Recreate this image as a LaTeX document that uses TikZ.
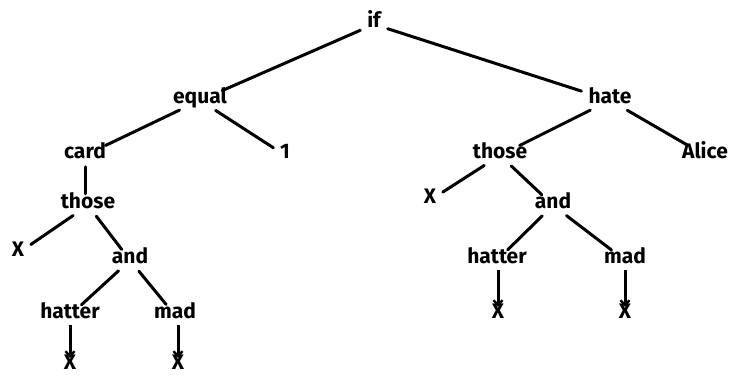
\documentclass[tikz,border=0pt]{standalone}
\usepackage{fontspec}
\setmainfont{Fira Sans}
\usetikzlibrary{arrows.meta}
\begin{document}
\begin{tikzpicture}[x=1pt,y=-1pt,
  lbl/.style={font=\fontsize{21}{23}\selectfont\bfseries, inner sep=4pt, anchor=base, text height=0.7em, text depth=0.16em},
  edge/.style={line width=3pt, line cap=round, shorten <=3pt, shorten >=3pt},
  arr/.style={line width=3pt, -{Straight Barb[length=5pt,width=9pt,line width=2.4pt]}, shorten <=1pt}]
\useasboundingbox (0,0) rectangle (744,375);
% left subtree
\node[lbl] (if) at (374,27) {if};
\node[lbl] (eq) at (200,103) {equal};
\node[lbl] (hate) at (610,103) {hate};
\node[lbl] (card) at (85,158) {card};
\node[lbl] (one) at (285,158) {1};
\node[lbl] (thoseL) at (88,208) {those};
\node[lbl] (xL) at (18,256) {X};
\node[lbl] (andL) at (130,263) {and};
\node[lbl] (hatL) at (70,318) {hatter};
\node[lbl] (madL) at (175,318) {mad};
\node[lbl] (xL1) at (70,369) {X};
\node[lbl] (xL2) at (178,369) {X};
% right subtree
\node[lbl] (thoseR) at (500,158) {those};
\node[lbl] (alice) at (705,158) {Alice};
\node[lbl] (xR) at (430,203) {X};
\node[lbl] (andR) at (553,208) {and};
\node[lbl] (hatR) at (497,263) {hatter};
\node[lbl] (madR) at (625,263) {mad};
\node[lbl] (xR1) at (498,318) {X};
\node[lbl] (xR2) at (625,318) {X};
% edges
\draw[edge] (if) -- (eq);
\draw[edge] (if) -- (hate);
\draw[edge] (eq) -- (card);
\draw[edge] (eq) -- (one);
\draw[edge] (card.south) -- (thoseL.north -| card.south);
\draw[edge] (thoseL) -- (xL);
\draw[edge] (thoseL) -- (andL);
\draw[edge] (andL) -- (hatL);
\draw[edge] (andL) -- (madL);
\draw[arr] (hatL.south) -- ([yshift=11pt]xL1.base);
\draw[arr] (madL.south -| xL2.base) -- ([yshift=11pt]xL2.base);
\draw[edge] (hate) -- (thoseR);
\draw[edge] (hate) -- (alice);
\draw[edge] (thoseR) -- (xR);
\draw[edge] (thoseR) -- (andR);
\draw[edge] (andR) -- (hatR);
\draw[edge] (andR) -- (madR);
\draw[arr] (hatR.south -| xR1.base) -- ([yshift=11pt]xR1.base);
\draw[arr] (madR.south) -- ([yshift=11pt]xR2.base);
\end{tikzpicture}
\end{document}
